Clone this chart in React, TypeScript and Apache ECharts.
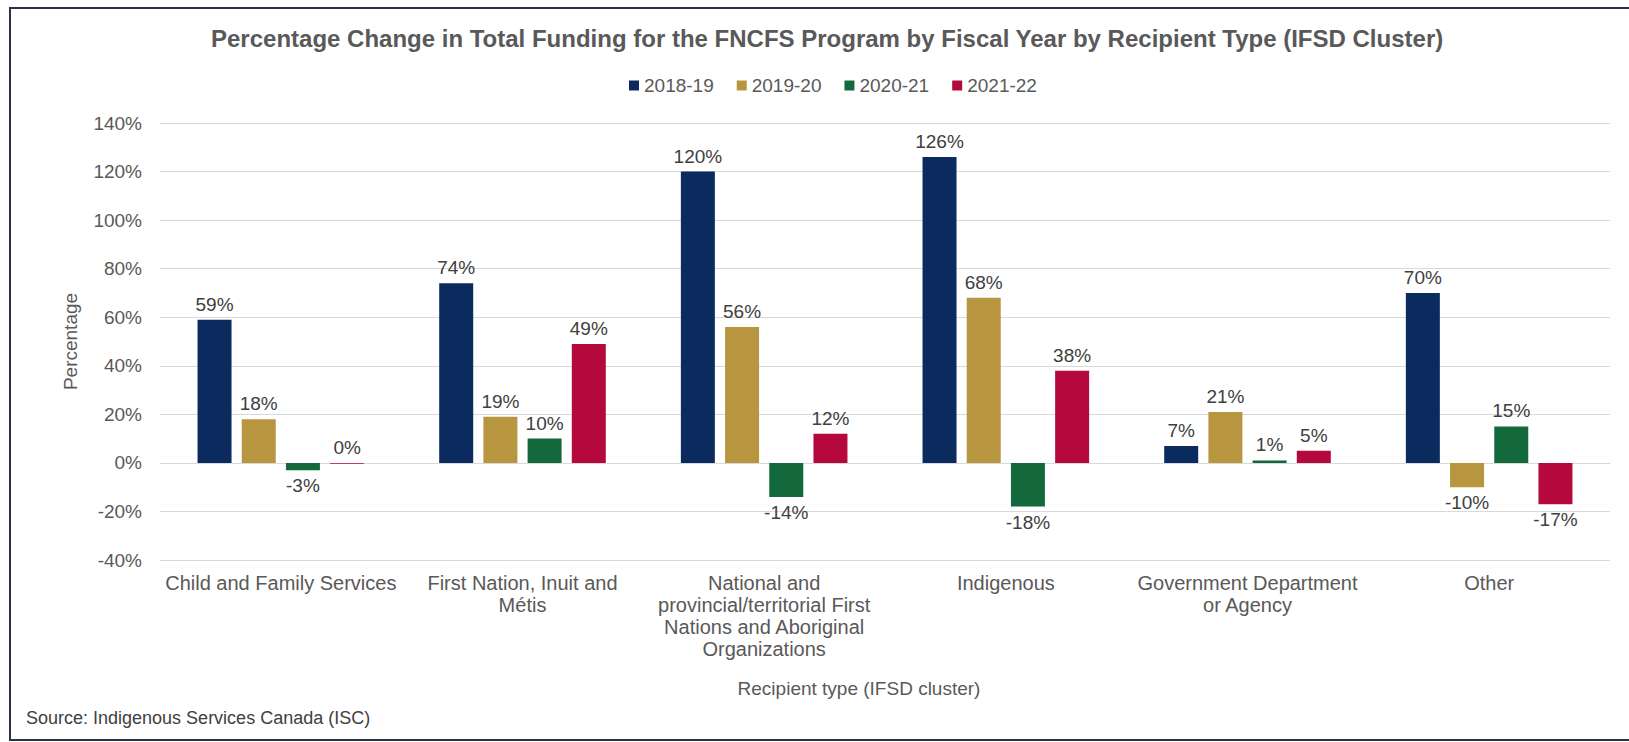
import React, { useEffect, useRef } from "react";
import * as echarts from "echarts";

const categories = [
  "Child and Family Services",
  "First Nation, Inuit and Métis",
  "National and provincial/territorial First Nations and Aboriginal Organizations",
  "Indigenous",
  "Government Department or Agency",
  "Other",
];
const seriesNames = ["2018-19", "2019-20", "2020-21", "2021-22"];
const fy1819 = [59, 74, 120, 126, 7, 70];
const fy1920 = [18, 19, 56, 68, 21, -10];
const fy2021 = [-3, 10, -14, -18, 1, 15];
const fy2122 = [-0.4, 49, 12, 38, 5, -17];
const seriesValues = [fy1819, fy1920, fy2021, fy2122];
const colors = ["#0B2B5F", "#B8963F", "#14693C", "#B5093E"];
const yMin = -40;
const yMax = 140;
const yStep = 20;

const titleText =
  "Percentage Change in Total Funding for the FNCFS Program by Fiscal Year by Recipient Type (IFSD Cluster)";
const xAxisTitle = "Recipient type (IFSD cluster)";
const yAxisTitle = "Percentage";
const sourceText = "Source: Indigenous Services Canada (ISC)";

const FONT = "Arial, 'Liberation Sans', Helvetica, sans-serif";
const X_LABEL_SIZE = 20;
const X_LABEL_WIDTH = 237;

let measureCtx: CanvasRenderingContext2D | null = null;
function measure(text: string, size: number): number {
  if (!measureCtx) {
    const c = document.createElement("canvas");
    measureCtx = c.getContext("2d");
  }
  if (!measureCtx) return text.length * size * 0.5;
  measureCtx.font = `${size}px ${FONT}`;
  return measureCtx.measureText(text).width;
}

function wrapWords(text: string, size: number, maxWidth: number): string {
  const words = text.split(" ");
  const lines: string[] = [];
  let cur = "";
  for (const w of words) {
    const next = cur ? cur + " " + w : w;
    if (cur && measure(next, size) > maxWidth) {
      lines.push(cur);
      cur = w;
    } else {
      cur = next;
    }
  }
  if (cur) lines.push(cur);
  return lines.join("\n");
}

export default function App() {
  const ref = useRef<HTMLDivElement>(null);
  useEffect(() => {
    if (!ref.current) return;
    const chart = echarts.init(ref.current, undefined, { renderer: "svg" });
    const series = seriesValues.map((vals, i) => ({
      name: seriesNames[i],
      type: "bar",
      barWidth: 34,
      barGap: "30%",
      itemStyle: { color: colors[i] },
      data: vals.map((v) => ({
        value: v,
        label: {
          position: v < 0 && Math.round(v) !== 0 ? "bottom" : "top",
        },
      })),
      label: {
        show: true,
        distance: 6,
        fontSize: 19,
        fontFamily: FONT,
        color: "#404040",
        formatter: (p: any) => `${Math.round(p.value) === 0 ? 0 : Math.round(p.value)}%`,
      },
    }));
    chart.setOption({
      animation: false,
      backgroundColor: "#ffffff",
      textStyle: { fontFamily: FONT },
      title: {
        text: titleText,
        left: 211,
        top: 26,
        padding: 0,
        textStyle: {
          fontSize: 24,
          fontWeight: "bold",
          color: "#595959",
          fontFamily: FONT,
        },
      },
      legend: {
        data: seriesNames,
        left: 624,
        top: 71,
        icon: "rect",
        itemWidth: 10,
        itemHeight: 10,
        itemGap: 23,
        textStyle: { fontSize: 19, color: "#595959", fontFamily: FONT },
      },
      grid: { left: 160, right: 19, top: 123, bottom: 182, containLabel: false },
      xAxis: {
        type: "category",
        data: categories,
        name: xAxisTitle,
        nameLocation: "middle",
        nameGap: 119,
        nameTextStyle: {
          fontSize: 19,
          color: "#595959",
          fontFamily: FONT,
          padding: [0, 52, 0, 0],
        },
        axisTick: { show: false },
        axisLine: { show: true, lineStyle: { color: "#d9d9d9", width: 1 } },
        axisLabel: {
          interval: 0,
          margin: 12,
          fontSize: X_LABEL_SIZE,
          lineHeight: 22,
          color: "#595959",
          fontFamily: FONT,
          formatter: (v: string) => wrapWords(v, X_LABEL_SIZE, X_LABEL_WIDTH),
        },
      },
      yAxis: {
        type: "value",
        min: yMin,
        max: yMax,
        interval: yStep,
        name: yAxisTitle,
        nameLocation: "middle",
        nameGap: 80,
        nameTextStyle: { fontSize: 19, color: "#595959", fontFamily: FONT },
        axisLine: { show: false },
        axisTick: { show: false },
        axisLabel: {
          formatter: "{value}%",
          margin: 18,
          fontSize: 19,
          color: "#595959",
          fontFamily: FONT,
        },
        splitLine: { lineStyle: { color: "#d9d9d9", width: 1 } },
      },
      series,
      graphic: [
        {
          type: "rect",
          shape: { x: 10, y: 8, width: 1660, height: 732 },
          style: { fill: "none", stroke: "#2b3247", lineWidth: 2 },
          silent: true,
        },
        {
          type: "text",
          left: 26,
          top: 709,
          style: {
            text: sourceText,
            fontSize: 18,
            fill: "#404040",
            fontFamily: FONT,
          },
        },
      ],
    });
    return () => chart.dispose();
  }, []);
  return (
    <div
      ref={ref}
      style={{
        position: "fixed",
        left: 0,
        top: 0,
        width: 1629,
        height: 742,
        background: "#ffffff",
      }}
    />
  );
}
